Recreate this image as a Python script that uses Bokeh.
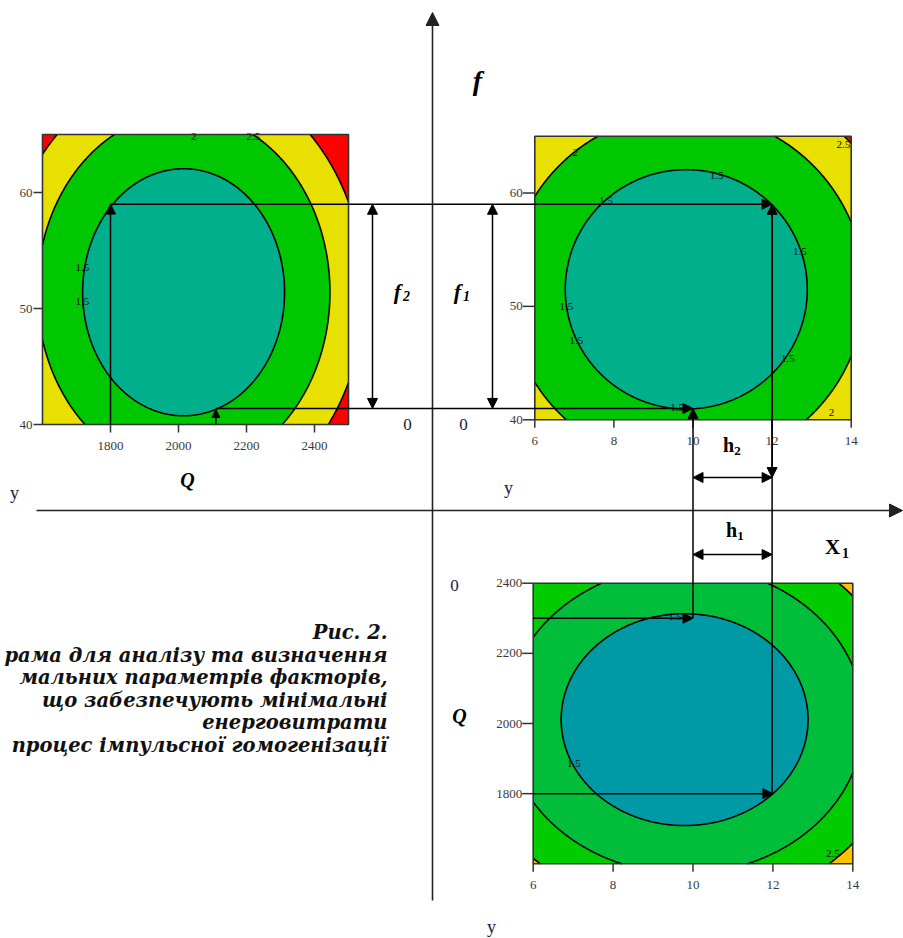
import numpy as np
from bokeh.plotting import figure
from bokeh.models import Range1d, Arrow, NormalHead, ColumnDataSource
from bokeh.core.properties import value
from bokeh.plotting.contour import contour_data
from bokeh.embed import file_html
from bokeh.resources import INLINE

# ------------------------------------------------------------------
# DATA
# ------------------------------------------------------------------
levels = [1.5, 2.0, 2.5]

# panel A : Q (horizontal) vs f (vertical)
A_q_span = [1600, 2500]
A_f_span = [40, 65]
A_q_ticks = [1800, 2000, 2200, 2400]
A_f_ticks = [40, 50, 60]
A_centre = [2015, 51.4]
A_semi = [297, 10.65]
A_step = 1.10
A_colors = ["#00B08C", "#00C800", "#E8E000", "#FF0000"]

# panel B : X1 (horizontal) vs f (vertical)
B_x_span = [6, 14]
B_f_span = [40, 65]
B_x_ticks = [6, 8, 10, 12, 14]
B_f_ticks = [40, 50, 60]
B_centre = [9.83, 51.5]
B_semi = [3.06, 10.55]
B_step = 1.17
B_colors = ["#00B08C", "#00C800", "#E8E000", "#FF0000"]

# panel C : X1 (horizontal) vs Q (vertical)
C_x_span = [6, 14]
C_q_span = [1600, 2400]
C_x_ticks = [6, 8, 10, 12, 14]
C_q_ticks = [1800, 2000, 2200, 2400]
C_centre = [9.79, 2011]
C_semi = [3.09, 302]
C_step = 1.11
C_colors = ["#0099A6", "#00BE3A", "#00CC00", "#FFC000"]

# optimum construction
f_hi, f_lo = 59, 41
x1_lo, x1_hi = 10, 12
qA_hi, qA_lo = 1800, 2110
qC_hi, qC_lo = 2300, 1800

# caption as visible in the picture (its left side is cut by the page edge)
caption = ["Рис. 2.",
           "рама для аналізу та визначення",
           "мальних параметрів факторів,",
           "що забезпечують мінімальні",
           "енерговитрати",
           "процес імпульсної гомогенізації"]

# ------------------------------------------------------------------
# LAYOUT (page pixels)
# ------------------------------------------------------------------
W, H = 903, 938
FX0, FX1 = 0, W
FY0, FY1 = 0, H
# boxes: left, right, bottom, top
A_box = (42, 348, 424, 134)
B_box = (534.3, 850.7, 419.3, 135.7)
C_box = (532.7, 852.3, 863.3, 582.7)
ORIGIN = (432, 510)

SERIF = value("Liberation Serif")
CAPFONT = value("DejaVu Serif")

p = figure(width=W, height=H, x_range=Range1d(FX0, FX1), y_range=Range1d(FY1, FY0),
           output_backend="svg", toolbar_location=None, min_border=0,
           x_axis_location=None, y_axis_location=None)
p.grid.visible = False
p.outline_line_color = None
p.background_fill_color = "white"


def xr(span, box):
    d0, d1 = span
    s = (d1 - d0) / (box[1] - box[0])
    return Range1d(d0 - (box[0] - FX0) * s, d1 + (FX1 - box[1]) * s)


def yr(span, box):
    d0, d1 = span
    s = (d1 - d0) / (box[2] - box[3])
    return Range1d(d0 - (FY1 - box[2]) * s, d1 + (box[3] - FY0) * s)


p.extra_x_ranges = {"qA": xr(A_q_span, A_box), "xB": xr(B_x_span, B_box), "xC": xr(C_x_span, C_box)}
p.extra_y_ranges = {"fA": yr(A_f_span, A_box), "fB": yr(B_f_span, B_box), "qC": yr(C_q_span, C_box)}


def page(span_x, span_y, box, u, v):
    x = box[0] + (u - span_x[0]) * (box[1] - box[0]) / (span_x[1] - span_x[0])
    y = box[2] - (v - span_y[0]) * (box[2] - box[3]) / (span_y[1] - span_y[0])
    return x, y


def panel(xn, yn, sx, sy, centre, semi, step, colors, xticks, yticks, ylab_off, yt_len):
    xs = np.linspace(sx[0], sx[1], 301)
    ys = np.linspace(sy[0], sy[1], 301)
    X, Y = np.meshgrid(xs, ys)
    r2 = ((X - centre[0]) / semi[0]) ** 2 + ((Y - centre[1]) / semi[1]) ** 2
    Z = 1.5 + 0.5 * (r2 - 1) / step
    fl = [float(Z.min()) - 1] + levels + [float(Z.max()) + 1]
    fd = contour_data(X, Y, Z, fl, want_line=False).fill_data
    src = ColumnDataSource(dict(xs=fd.xs, ys=fd.ys, c=colors))
    p.multi_polygons(xs="xs", ys="ys", fill_color="c", line_color=None, source=src,
                     x_range_name=xn, y_range_name=yn)
    ld = contour_data(X, Y, Z, levels, want_fill=False).line_data
    p.multi_line(xs=list(ld.xs), ys=list(ld.ys), line_color="black", line_width=1.6,
                 x_range_name=xn, y_range_name=yn)
    p.quad(left=sx[0], right=sx[1], bottom=sy[0], top=sy[1], fill_color=None,
           line_color="#333333", line_width=1.6, x_range_name=xn, y_range_name=yn)
    # y ticks
    p.ray(x=[sx[0]] * len(yticks), y=yticks, length=yt_len, length_units="screen", angle=np.pi,
          line_color="#333333", line_width=1.5, x_range_name=xn, y_range_name=yn)
    p.text(x=[sx[0]] * len(yticks), y=yticks, text=[str(t) for t in yticks], x_offset=ylab_off,
           text_align="right", text_baseline="middle", text_font=SERIF, text_font_size="13px",
           text_color="#3a3a3a", x_range_name=xn, y_range_name=yn)
    # x ticks
    p.ray(x=xticks, y=[sy[0]] * len(xticks), length=8, length_units="screen", angle=-np.pi / 2,
          line_color="#333333", line_width=1.5, x_range_name=xn, y_range_name=yn)
    p.text(x=xticks, y=[sy[0]] * len(xticks), text=[str(t) for t in xticks], y_offset=21,
           text_align="center", text_baseline="middle", text_font=SERIF, text_font_size="13px",
           text_color="#3a3a3a", x_range_name=xn, y_range_name=yn)


panel("qA", "fA", A_q_span, A_f_span, A_centre, A_semi, A_step, A_colors,
      A_q_ticks, A_f_ticks, -10, 9)
panel("xB", "fB", B_x_span, B_f_span, B_centre, B_semi, B_step, B_colors,
      B_x_ticks, B_f_ticks, -12, 12)
panel("xC", "qC", C_x_span, C_q_span, C_centre, C_semi, C_step, C_colors,
      C_x_ticks, C_q_ticks, -11, 11)


# contour level labels (panel data coordinates)
def clabels(xn, yn, pts, txt):
    p.text(x=[a for a, b in pts], y=[b for a, b in pts], text=txt, text_font=SERIF,
           text_font_size="11px", text_color="#111111", text_align="center",
           text_baseline="middle", x_range_name=xn, y_range_name=yn)


clabels("qA", "fA", [(1717, 53.5), (1717, 50.6), (2045, 64.8), (2220, 64.8)], ["1.5", "1.5", "2", "2.5"])
clabels("xB", "fB", [(7.03, 63.6), (10.6, 61.5), (7.8, 59.3), (12.7, 54.8), (6.8, 50.0),
                     (7.05, 47.0), (12.4, 45.4), (9.6, 41.1), (13.5, 40.6), (13.8, 64.3)],
        ["2", "1.5", "1.5", "1.5", "1.5", "1.5", "1.5", "1.5", "2", "2.5"])
clabels("xC", "qC", [(9.55, 2305), (7.02, 1885), (13.5, 1630)], ["1.5", "1.5", "2.5"])

# ------------------------------------------------------------------
# nomogram axes and construction lines
# ------------------------------------------------------------------
def arrow(x0, y0, x1, y1, start=False, end=True, w=1.5, size=10, color="black"):
    p.add_layout(Arrow(x_start=x0, y_start=y0, x_end=x1, y_end=y1, line_width=w, line_color=color,
                       start=NormalHead(size=size, fill_color=color, line_color=color) if start else None,
                       end=NormalHead(size=size, fill_color=color, line_color=color) if end else None))


ox, oy = ORIGIN
arrow(ox, 900, ox, 12, w=1.6, size=13, color="#222222")
arrow(36, oy, 902, oy, w=1.6, size=13, color="#222222")

A_pt = lambda u, v: page(A_q_span, A_f_span, A_box, u, v)
B_pt = lambda u, v: page(B_x_span, B_f_span, B_box, u, v)
C_pt = lambda u, v: page(C_x_span, C_q_span, C_box, u, v)

# f = f_hi line from panel A (Q=1800) to panel B (X1=12)
a0 = A_pt(qA_hi, A_f_span[0]); a1 = A_pt(qA_hi, f_hi); b1 = B_pt(x1_hi, f_hi)
arrow(a0[0], a0[1], a1[0], a1[1])
arrow(a1[0], b1[1], b1[0], b1[1])
# f = f_lo line from panel A (Q=2110) to panel B (X1=10)
a2 = A_pt(qA_lo, A_f_span[0]); a3 = A_pt(qA_lo, f_lo + 0.3); b2 = B_pt(x1_lo, f_lo)
arrow(a2[0], a2[1], a3[0], a3[1], size=8)
arrow(a3[0], b2[1], b2[0], b2[1])
# vertical X1 = 12 from B to C
c1 = C_pt(x1_hi, qC_lo); c0 = C_pt(C_x_span[0], qC_lo)
h2y = 477
arrow(b1[0], h2y, b1[0], b1[1])
arrow(b1[0], b1[1], b1[0], h2y)
arrow(b1[0], h2y, b1[0], c1[1], end=False)
arrow(c0[0], c1[1], c1[0], c1[1])
# vertical X1 = 10 from C to B
c2 = C_pt(x1_lo, qC_hi); c3 = C_pt(C_x_span[0], qC_hi)
arrow(b2[0], c2[1], b2[0], b2[1])
arrow(c3[0], c2[1], c2[0], c2[1])
# f1, f2 dimensions
for fx in (372, 492):
    arrow(fx, b1[1], fx, b2[1], start=True)
# h1, h2 dimensions
for hy in (h2y, 554):
    arrow(b2[0], hy, b1[0], hy, start=True)

# ------------------------------------------------------------------
# labels
# ------------------------------------------------------------------
def label(x, y, t, size, style="normal", color="black", align="center", baseline="middle", font=SERIF):
    p.text(x=[x], y=[y], text=[t], text_font=font, text_font_size=size, text_font_style=style,
           text_color=color, text_align=align, text_baseline=baseline)


label(477, 80, "f", "28px", "bold italic")
label(397, 291, "f", "22px", "bold italic")
label(406, 295, "2", "14px", "bold italic")
label(457, 291, "f", "22px", "bold italic")
label(466, 295, "1", "14px", "bold italic")
label(728, 444, "h", "20px", "bold")
label(737, 450, "2", "13px", "bold")
label(731, 529, "h", "20px", "bold")
label(740, 535, "1", "13px", "bold")
label(832, 546, "X", "21px", "bold")
label(845, 552, "1", "14px", "bold")
navy = "#1c2340"
for (x, y) in [(407, 424), (463, 424), (454, 585)]:
    label(x, y, "0", "17px", color=navy)
for (x, y) in [(14, 492), (508, 487), (491, 926)]:
    label(x, y, "y", "18px", color=navy)
label(187, 479, "Q", "20px", "bold italic")
label(459, 715, "Q", "20px", "bold italic")

for i, line in enumerate(caption):
    label(387, 632 + 22.6 * i, line, "19.5px", "bold italic", color="#111111", align="right",
          baseline="alphabetic", font=CAPFONT)

open("out.html", "w").write(file_html(p, INLINE))
